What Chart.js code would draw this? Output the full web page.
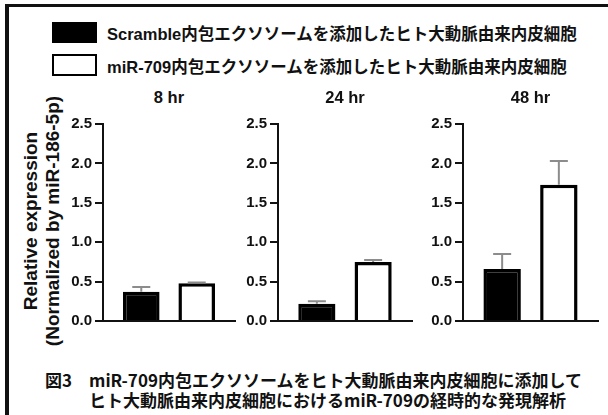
<!DOCTYPE html>
<html>
<head>
<meta charset="utf-8">
<script src="https://cdn.jsdelivr.net/npm/chart.js@4.4.0/dist/chart.umd.min.js"></script>
<style>
  body { margin: 0; background: #fff; width: 608px; height: 415px; overflow: hidden; position: relative; }
  .frame { position: absolute; left: 5px; top: 4px; width: 700px; height: 500px; border-left: 4px solid #111; border-top: 3px solid #111; }
  .legend-box { position: absolute; left: 52px; width: 45px; box-sizing: border-box; }
  .legend-text { position: absolute; left: 107px; height: 22px; line-height: 22px; white-space: nowrap;
    font: bold 16.5px "Liberation Sans", "Noto Sans CJK JP", sans-serif; color: #111; }
  .panel-title { position: absolute; top: 88px; line-height: 20px; width: 100px; margin-left: -50px; text-align: center;
    font: bold 16.5px "Liberation Sans", Arial, sans-serif; color: #111; }
  .ylabel { position: absolute; left: -118px; top: 199px; width: 320px; height: 44px; line-height: 22px; text-align: center;
    transform: rotate(-90deg); font: bold 19px "Liberation Sans", Arial, sans-serif; color: #111; white-space: nowrap; }
  .caption { position: absolute; line-height: 20px; white-space: pre;
    font: bold 17px "Noto Sans CJK JP", sans-serif; color: #111; }
  canvas { position: absolute; top: 110px; }
</style>
</head>
<body>
<div class="frame"></div>

<div class="legend-box" style="top:22px;height:21px;background:#000;"></div>
<div class="legend-text" id="leg1" style="top:21px;"></div>
<div class="legend-box" style="top:54px;height:22px;background:#fff;border:2px solid #000;"></div>
<div class="legend-text" id="leg2" style="top:54px;"></div>

<div class="ylabel">Relative expression<br>(Normalized by miR-186-5p)</div>

<canvas id="c0" width="176" height="225" style="left:63px;"></canvas>
<canvas id="c1" width="178" height="225" style="left:238px;"></canvas>
<canvas id="c2" width="179" height="225" style="left:423px;"></canvas>

<div class="caption" style="left:45px;top:367px;">図3　miR-709内包エクソソームをヒト大動脈由来内皮細胞に添加して</div>
<div class="caption" style="left:89px;top:387px;">ヒト大動脈由来内皮細胞におけるmiR-709の経時的な発現解析</div>

<script>
const seriesNames = ["Scramble内包エクソソームを添加したヒト大動脈由来内皮細胞", "miR-709内包エクソソームを添加したヒト大動脈由来内皮細胞"];
const timeLabels = ["8 hr", "24 hr", "48 hr"];
const scrambleMean = [0.37, 0.22, 0.66];
const scrambleErr = [0.06, 0.03, 0.19];
const mirMean = [0.48, 0.75, 1.73];
const mirErr = [0.01, 0.025, 0.30];
const yTicks = [0, 0.5, 1.0, 1.5, 2.0, 2.5];

document.getElementById("leg1").textContent = seriesNames[0];
document.getElementById("leg2").textContent = seriesNames[1];

// mean + upward error bar with a cap
const errorBars = {
    id: "errorBars",
    afterDatasetsDraw(chart) {
        const ctx = chart.ctx;
        const y = chart.scales.y;
        chart.data.datasets.forEach((ds, i) => {
            chart.getDatasetMeta(i).data.forEach((bar, j) => {
                const top = y.getPixelForValue(ds.data[j] + ds.errors[j]);
                ctx.save();
                ctx.strokeStyle = "#8c8c8c";
                ctx.lineWidth = 2;
                ctx.beginPath();
                ctx.moveTo(bar.x, bar.y);
                ctx.lineTo(bar.x, top);
                ctx.moveTo(bar.x - 9, top);
                ctx.lineTo(bar.x + 9, top);
                ctx.stroke();
                ctx.restore();
            });
        });
    }
};

const tickFont = { family: "'Liberation Sans', Arial, sans-serif", size: 15, weight: "bold" };

timeLabels.forEach((time, i) => {
    const canvas = document.getElementById("c" + i);

    let title = document.createElement("div");
    title.className = "panel-title";
    title.textContent = time;
    document.body.appendChild(title);

    const chart = new Chart(canvas.getContext("2d"), {
        type: "bar",
        data: {
            labels: [time],
            datasets: [
                {
                    label: seriesNames[0],
                    data: [scrambleMean[i]],
                    errors: [scrambleErr[i]],
                    backgroundColor: "#000",
                    borderColor: "#000",
                    borderWidth: 3.5,
                    categoryPercentage: 0.84,
                    barPercentage: 0.66
                },
                {
                    label: seriesNames[1],
                    data: [mirMean[i]],
                    errors: [mirErr[i]],
                    backgroundColor: "#fff",
                    borderColor: "#000",
                    borderWidth: 3.5,
                    categoryPercentage: 0.84,
                    barPercentage: 0.66
                }
            ]
        },
        options: {
            responsive: false,
            animation: false,
            layout: { padding: { top: 14, bottom: 14, left: 0, right: 4 } },
            plugins: { legend: { display: false }, tooltip: { enabled: false } },
            scales: {
                x: {
                    grid: { display: false },
                    ticks: { display: false },
                    border: { color: "#111", width: 2 },
                    afterFit: s => { s.height = 0; }
                },
                y: {
                    min: 0,
                    max: 2.5,
                    afterBuildTicks: s => { s.ticks = yTicks.map(v => ({ value: v })); },
                    ticks: { padding: 3, color: "#111", font: tickFont, callback: v => v.toFixed(1) },
                    grid: { drawOnChartArea: false, color: "#111", lineWidth: 2, tickLength: 8 },
                    border: { color: "#111", width: 2 },
                    afterFit: s => { s.width = 40; s.paddingTop = 0; s.paddingBottom = 0; }
                }
            }
        },
        plugins: [errorBars]
    });

    const area = chart.chartArea;
    const left = parseFloat(canvas.style.left);
    title.style.left = (left + (area.left + area.right) / 2) + "px";
});
</script>
</body>
</html>
